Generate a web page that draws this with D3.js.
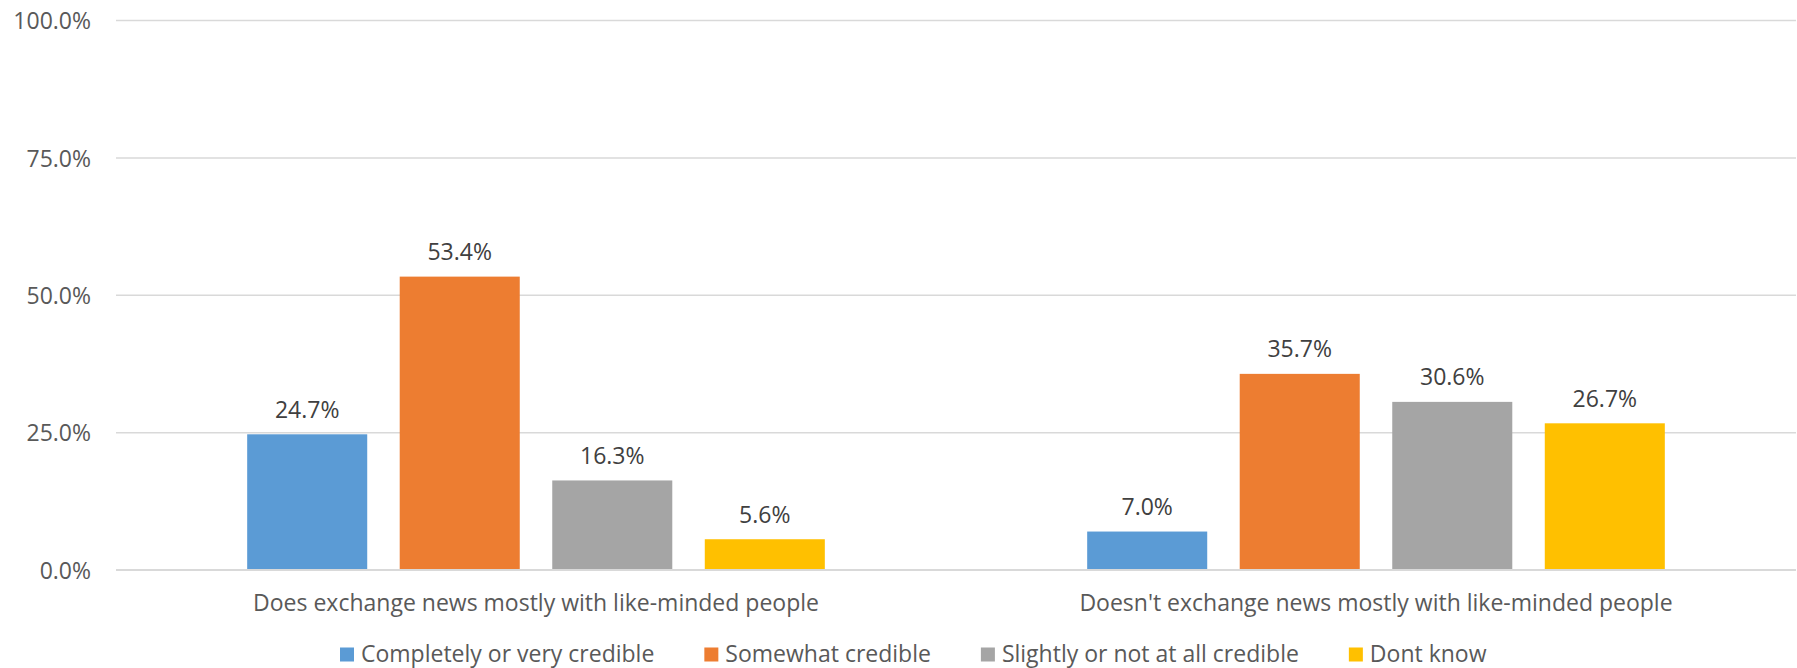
<!DOCTYPE html>
<html>
<head>
<meta charset="utf-8">
<script src="https://cdn.jsdelivr.net/npm/d3@7"></script>
<style>
  html, body { margin: 0; padding: 0; background: #fff; }
  svg { display: block; font-family: "Open Sans", sans-serif; }
</style>
</head>
<body>
<svg id="chart" width="1797" height="668"></svg>
<script>
const categories = ["Does exchange news mostly with like-minded people", "Doesn't exchange news mostly with like-minded people"];
const seriesNames = ["Completely or very credible", "Somewhat credible", "Slightly or not at all credible", "Dont know"];
const seriesColors = ["#5B9BD5", "#ED7D31", "#A5A5A5", "#FFC000"];
const completelyValues = [0.247, 0.070];
const somewhatValues = [0.534, 0.357];
const slightlyValues = [0.163, 0.306];
const dontKnowValues = [0.056, 0.267];
const yTicks = [0, 0.25, 0.5, 0.75, 1.0];

const seriesValues = [completelyValues, somewhatValues, slightlyValues, dontKnowValues];

(function () {
const svg = d3.select("#chart");
const plotLeft = 116, plotRight = 1796, plotTop = 20.6, plotBottom = 570;
const fontSize = 23;

const x0 = d3.scaleBand().domain(categories).range([plotLeft, plotRight]).padding(0);
const x1 = d3.scaleBand().domain(seriesNames).range([0, x0.bandwidth()])
  .paddingInner(0.213).paddingOuter(0.86);
const y = d3.scaleLinear().domain([0, 1]).range([plotBottom, plotTop]);

// gridlines
svg.append("g").selectAll("line").data(yTicks.filter(d => d > 0)).join("line")
  .attr("x1", plotLeft).attr("x2", plotRight)
  .attr("y1", d => y(d)).attr("y2", d => y(d))
  .attr("stroke", "#D9D9D9").attr("stroke-width", 1.5);

// y axis labels
const yAxis = d3.axisLeft(y).tickValues(yTicks).tickFormat(d3.format(".1%")).tickSize(0).tickPadding(0);
const gy = svg.append("g").attr("transform", `translate(91,0)`).call(yAxis);
gy.select(".domain").remove();
gy.selectAll("text").attr("fill", "#595959").style("font-size", fontSize + "px")
  .style("font-family", "'Open Sans', sans-serif").attr("dy", "0.35em");

// bars
const groups = svg.append("g").selectAll("g").data(seriesNames).join("g")
  .attr("fill", (d, i) => seriesColors[i]);
groups.selectAll("rect").data((s, si) => categories.map((c, ci) => ({c, s, v: seriesValues[si][ci]})))
  .join("rect")
  .attr("x", d => x0(d.c) + x1(d.s))
  .attr("y", d => y(d.v))
  .attr("width", x1.bandwidth())
  .attr("height", d => y(0) - y(d.v));

// data labels
groups.selectAll("text").data((s, si) => categories.map((c, ci) => ({c, s, v: seriesValues[si][ci]})))
  .join("text")
  .attr("x", d => x0(d.c) + x1(d.s) + x1.bandwidth() / 2)
  .attr("y", d => y(d.v) - 16.5)
  .attr("text-anchor", "middle")
  .attr("fill", "#404040")
  .style("font-size", fontSize + "px")
  .text(d => d3.format(".1%")(d.v));

// x axis baseline
svg.append("line").attr("x1", plotLeft).attr("x2", plotRight)
  .attr("y1", y(0)).attr("y2", y(0))
  .attr("stroke", "#D9D9D9").attr("stroke-width", 2);

// category labels
const xAxis = d3.axisBottom(x0).tickSize(0).tickPadding(0);
const gx = svg.append("g").attr("transform", `translate(0,${611})`).call(xAxis);
gx.select(".domain").remove();
gx.selectAll("text").attr("fill", "#595959").attr("dy", 0).attr("y", 0)
  .style("font-size", fontSize + "px").style("font-family", "'Open Sans', sans-serif");

// legend
const legend = svg.append("g");
let lx = 340;
seriesNames.forEach((name, i) => {
  legend.append("rect").attr("x", lx).attr("y", 647.5).attr("width", 14).attr("height", 14)
    .attr("fill", seriesColors[i]);
  const t = legend.append("text").attr("x", lx + 21).attr("y", 661.5)
    .attr("fill", "#595959").style("font-size", fontSize + "px").text(name);
  lx += 21 + t.node().getComputedTextLength() + 50;
});
})();
</script>
</body>
</html>
